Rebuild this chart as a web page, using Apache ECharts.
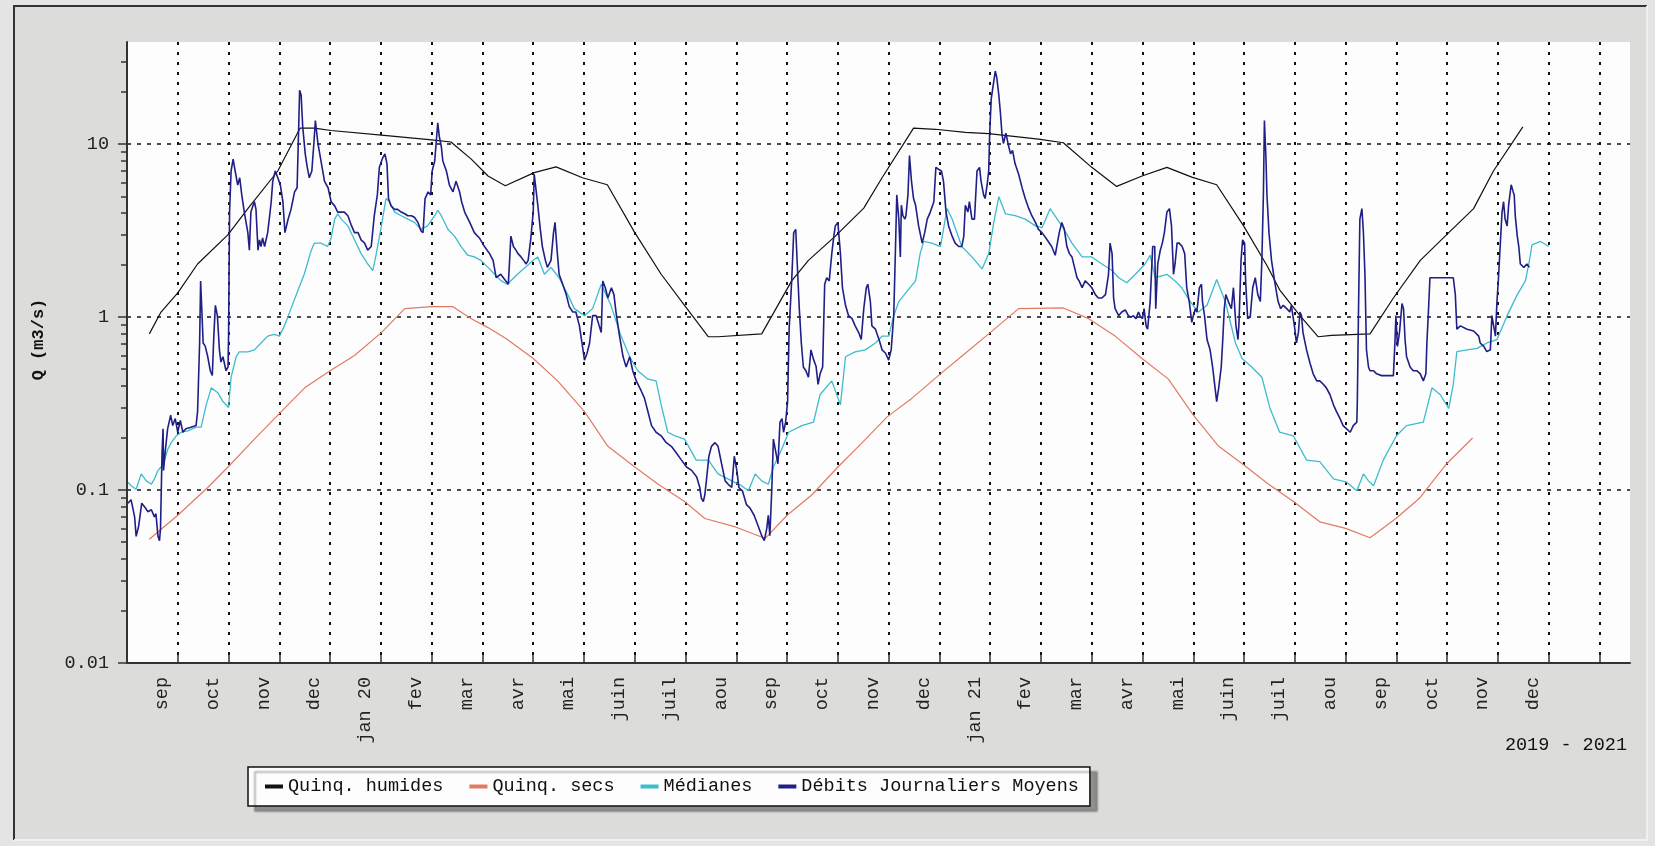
<!DOCTYPE html>
<html>

	<head>
		<meta charset="utf-8">
		<script src="https://cdn.jsdelivr.net/npm/echarts/dist/echarts.min.js"></script>
		<style>
			body { margin: 0; background: #e4e4e4; }
		</style>
	</head>

	<body>
		<div id="main" style="width: 1655px;height:846px;"></div>
		<script>
			// axe des x : un pas = un mois (0 = debut aout 2019)
			var moisLabels = ['', 'sep', 'oct', 'nov', 'dec', 'jan 20', 'fev', 'mar', 'avr', 'mai', 'juin', 'juil', 'aou',
				'sep', 'oct', 'nov', 'dec', 'jan 21', 'fev', 'mar', 'avr', 'mai', 'juin', 'juil', 'aou',
				'sep', 'oct', 'nov', 'dec', ''];
			var yLabels = ['0.01', '0.1', '1', '10'];
			var yMajor = [0.01, 0.1, 1, 10];
			var yMinor = [0.02, 0.03, 0.04, 0.05, 0.06, 0.07, 0.08, 0.09,
				0.2, 0.3, 0.4, 0.5, 0.6, 0.7, 0.8, 0.9,
				2, 3, 4, 5, 6, 7, 8, 9, 20, 30];

			// [mois, Q m3/s]
			var humides = [[0.44,0.80],[0.67,1.07],[1.0,1.38],[1.39,2.03],[1.99,3.0],[2.38,4.24],[2.97,7.0],[3.41,12.4],[3.69,12.4],[4.02,12.0],[5.01,11.3],[6.0,10.6],[6.38,10.3],[6.78,8.2],[7.11,6.55],[7.45,5.75],[8.02,6.85],[8.45,7.4],[8.97,6.4],[9.46,5.83],[10.0,3.08],[10.52,1.77],[10.98,1.17],[11.45,0.77],[11.64,0.77],[12.50,0.80],[13.09,1.62],[13.42,2.13],[13.95,2.94],[14.51,4.27],[14.87,6.4],[15.49,12.4],[15.92,12.2],[16.51,11.7],[16.97,11.5],[17.95,10.7],[18.44,10.2],[19.0,7.35],[19.49,5.7],[19.99,6.55],[20.48,7.35],[20.97,6.45],[21.46,5.83],[21.99,3.37],[22.45,1.99],[22.70,1.44],[23.10,1.02],[23.46,0.77],[23.72,0.785],[24.48,0.80],[24.94,1.29],[25.47,2.13],[25.99,3.0],[26.52,4.24],[26.91,7.0],[27.49,12.6]];

			var secs = [[0.44,0.052],[1.0,0.0715],[1.59,0.1035],[1.99,0.136],[2.51,0.197],[3.0,0.277],[3.5,0.39],[4.0,0.49],[4.48,0.60],[5.01,0.814],[5.47,1.12],[6.0,1.15],[6.42,1.15],[6.78,0.98],[7.11,0.87],[7.47,0.75],[8.0,0.577],[8.48,0.428],[9.01,0.284],[9.47,0.179],[10.0,0.136],[10.46,0.108],[10.98,0.0858],[11.38,0.0685],[12.0,0.061],[12.57,0.0525],[13.0,0.0715],[13.49,0.094],[14.0,0.136],[14.48,0.188],[14.97,0.265],[15.46,0.34],[16.02,0.47],[16.51,0.618],[17.0,0.814],[17.56,1.12],[18.44,1.13],[18.94,0.98],[19.46,0.777],[19.99,0.577],[20.51,0.438],[21.0,0.271],[21.5,0.179],[21.99,0.14],[22.45,0.11],[22.97,0.0858],[23.49,0.0655],[24.0,0.06],[24.48,0.053],[24.99,0.0685],[25.46,0.09],[25.99,0.142],[26.5,0.2]];

			var medianes = [[0.02,0.111],[0.08,0.106],[0.18,0.101],[0.28,0.124],[0.38,0.113],[0.48,0.108],[0.54,0.116],[0.61,0.130],[0.67,0.136],[0.72,0.142],[0.80,0.171],[0.87,0.188],[0.97,0.206],[1.07,0.216],[1.20,0.22],[1.36,0.231],[1.46,0.231],[1.56,0.311],[1.66,0.39],[1.79,0.365],[1.89,0.325],[2.00,0.30],[2.05,0.45],[2.15,0.59],[2.21,0.63],[2.38,0.63],[2.51,0.647],[2.64,0.709],[2.77,0.777],[2.90,0.795],[3.00,0.777],[3.10,0.89],[3.23,1.12],[3.36,1.41],[3.49,1.77],[3.63,2.44],[3.69,2.68],[3.82,2.68],[3.95,2.56],[4.02,2.87],[4.09,3.69],[4.15,3.96],[4.22,3.69],[4.35,3.37],[4.48,2.80],[4.61,2.33],[4.74,2.03],[4.84,1.86],[4.91,2.33],[5.01,3.37],[5.10,4.85],[5.17,4.65],[5.27,4.05],[5.40,3.86],[5.53,3.69],[5.66,3.53],[5.79,3.22],[5.92,3.37],[6.06,3.86],[6.12,4.15],[6.19,3.86],[6.32,3.22],[6.45,2.94],[6.58,2.56],[6.71,2.28],[6.84,2.23],[6.97,2.13],[7.11,1.94],[7.24,1.77],[7.37,1.62],
				[7.49,1.55],[7.69,1.77],[8.00,2.13],[8.09,2.23],[8.22,1.77],[8.35,1.94],[8.51,1.69],[8.68,1.35],[8.81,1.12],[9.01,1.02],[9.17,1.12],[9.34,1.55],[9.53,1.17],[9.73,0.777],[9.90,0.59],[10.06,0.49],[10.26,0.438],[10.42,0.428],[10.52,0.311],[10.65,0.216],[10.79,0.206],[10.98,0.197],[11.21,0.149],[11.45,0.149],[11.64,0.124],[11.91,0.113],[12.10,0.106],[12.24,0.099],[12.37,0.124],[12.50,0.113],[12.63,0.108],[12.73,0.136],[12.89,0.171],[13.03,0.216],[13.29,0.236],[13.52,0.247],[13.65,0.357],[13.88,0.428],[14.05,0.311],[14.15,0.59],[14.34,0.63],[14.54,0.647],[14.74,0.709],
				[14.87,0.777],[15.00,0.777],[15.10,1.02],[15.20,1.23],[15.36,1.41],[15.53,1.62],[15.62,2.33],[15.69,2.74],[15.85,2.68],[16.02,2.56],[16.15,4.24],[16.25,3.69],[16.44,2.56],[16.64,2.23],[16.84,1.90],[16.97,2.33],[17.07,3.53],[17.17,4.97],[17.30,3.96],[17.49,3.86],[17.69,3.69],[17.89,3.37],[18.02,3.29],[18.18,4.24],[18.41,3.37],[18.61,2.68],[18.81,2.23],[19.00,2.23],[19.20,2.03],[19.40,1.86],[19.53,1.69],[19.69,1.58],[19.86,1.77],[20.05,2.03],[20.15,2.28],[20.25,1.69],[20.48,1.77],[20.64,1.62],[20.77,1.48],[20.94,1.23],[21.10,1.07],[21.27,1.17],[21.46,1.65],[21.63,1.23],[21.83,0.709],[21.96,0.577],[22.15,0.515],[22.35,0.449],
				[22.51,0.297],[22.70,0.216],[22.97,0.206],[23.23,0.149],[23.49,0.146],[23.76,0.116],[24.02,0.111],[24.22,0.099],[24.35,0.124],[24.45,0.113],[24.55,0.106],[24.74,0.149],[25.00,0.206],[25.20,0.236],[25.53,0.247],[25.70,0.39],[25.86,0.357],[26.03,0.297],[26.12,0.409],[26.19,0.632],[26.39,0.647],[26.59,0.66],[26.78,0.709],[26.98,0.742],[27.18,1.02],[27.38,1.35],[27.54,1.62],[27.62,2.13],[27.67,2.62],[27.84,2.74],[28.00,2.56]];

			var debits = [[0.02,0.084],[0.08,0.088],[0.15,0.070],[0.18,0.054],[0.23,0.062],[0.29,0.084],[0.36,0.079],[0.41,0.075],[0.48,0.077],[0.54,0.070],[0.57,0.073],[0.61,0.054],[0.64,0.051],[0.66,0.060],[0.69,0.164],[0.71,0.226],[0.72,0.130],[0.75,0.164],[0.77,0.164],[0.80,0.226],[0.86,0.271],[0.90,0.236],[0.95,0.259],[1.00,0.216],[1.05,0.253],[1.10,0.216],[1.16,0.226],[1.26,0.231],[1.36,0.236],[1.39,0.284],[1.43,0.709],[1.45,1.62],[1.48,1.62],[1.50,0.709],[1.54,0.68],[1.59,0.59],[1.64,0.49],[1.68,0.46],[1.71,0.777],[1.74,1.17],[1.78,1.02],[1.82,0.647],[1.85,0.55],[1.89,0.59],[1.95,0.49],[1.99,0.515],[2.00,0.777],[2.02,4.05],[2.05,7.0],[2.09,8.2],[2.13,7.0],[2.18,5.8],[2.22,6.4],[2.26,5.09],[2.31,4.05],[2.38,3.08],[2.41,2.44],[2.44,4.05],[2.48,4.4],[2.51,4.65],[2.54,4.2],[2.58,2.44],[2.61,2.8],[2.64,2.56],[2.67,2.87],[2.71,2.56],[2.74,2.56],[2.77,3.08],[2.81,3.86],[2.84,4.65],[2.87,6.1],[2.92,7.0],[2.97,6.4],[3.02,5.8],[3.07,4.65],[3.11,3.08],[3.17,3.66],[3.23,4.2],[3.30,5.3],[3.35,5.6],[3.40,20.5],[3.43,19.2],[3.46,12.7],[3.51,8.8],[3.55,7.35],[3.59,6.4],[3.64,7.0],[3.68,10.1],[3.71,13.7],[3.76,10.1],[3.82,8.0],[3.89,6.1],[3.96,5.6],[4.02,4.65],[4.09,4.4],[4.15,4.05],[4.22,4.05],[4.28,4.05],[4.35,3.86],[4.41,3.44],[4.48,3.08],[4.55,3.08],[4.61,2.8],[4.68,2.68],[4.74,2.44],[4.81,2.56],[4.87,3.86],[4.93,5.09],[4.97,7.35],[5.04,8.4],[5.08,8.8],[5.12,7.7],[5.15,4.85],[5.20,4.4],[5.27,4.2],[5.33,4.2],[5.40,4.05],[5.47,3.96],[5.53,3.86],[5.60,3.86],[5.66,3.78],[5.73,3.53],[5.79,3.15],[5.83,3.08],[5.87,4.85],[5.93,5.3],[5.98,5.09],[6.01,7.0],[6.06,8.0],[6.12,13.3],[6.15,11.1],[6.19,9.7],[6.22,8.0],[6.29,7.0],[6.35,5.8],[6.42,5.3],[6.48,6.1],[6.55,5.3],[6.59,4.65],[6.65,4.05],[6.75,3.53],[6.84,3.08],[6.94,2.87],[7.04,2.56],[7.14,2.33],[7.21,2.13],[7.27,1.69],
				[7.36,1.77],[7.46,1.62],[7.51,1.55],[7.56,2.94],[7.61,2.56],[7.66,2.44],[7.70,2.33],[7.76,2.23],[7.81,2.13],[7.86,2.03],[7.90,2.13],[7.95,2.80],[8.00,4.05],[8.02,6.7],[8.05,6.7],[8.09,4.44],[8.14,3.22],[8.18,2.56],[8.24,2.13],[8.28,1.94],[8.35,2.13],[8.40,3.08],[8.43,3.53],[8.47,2.44],[8.51,1.77],[8.58,1.55],[8.65,1.35],[8.71,1.15],[8.78,1.07],[8.84,1.07],[8.91,0.89],[8.96,0.709],[9.01,0.564],[9.06,0.618],[9.11,0.709],[9.17,1.02],[9.24,1.02],[9.30,0.89],[9.34,0.814],[9.37,1.62],[9.42,1.48],[9.47,1.29],[9.54,1.48],[9.59,1.35],[9.63,1.07],[9.70,0.777],[9.77,0.59],[9.83,0.515],[9.90,0.59],[9.96,0.49],[10.03,0.428],[10.13,0.373],[10.19,0.34],[10.26,0.284],[10.33,0.236],[10.42,0.216],[10.52,0.206],[10.62,0.188],[10.72,0.179],[10.82,0.164],[10.92,0.149],[11.02,0.136],[11.12,0.130],[11.22,0.119],[11.28,0.1035],[11.31,0.090],[11.35,0.0858],[11.38,0.094],[11.41,0.113],[11.46,0.157],[11.51,0.179],[11.58,0.188],[11.64,0.179],[11.71,0.142],[11.78,0.113],[11.84,0.108],[11.91,0.1035],[11.96,0.157],[12.01,0.130],[12.05,0.1035],[12.12,0.099],[12.20,0.0823],[12.27,0.0787],[12.35,0.0715],[12.43,0.062],[12.50,0.0545],[12.55,0.051],[12.60,0.060],[12.63,0.0715],[12.66,0.0545],[12.70,0.1035],[12.73,0.197],[12.78,0.164],[12.82,0.142],[12.86,0.247],[12.90,0.259],[12.93,0.216],[12.97,0.247],[13.01,0.325],[13.04,0.852],[13.09,1.62],[13.13,3.08],[13.17,3.22],[13.20,2.03],[13.24,1.12],[13.28,0.709],[13.32,0.515],[13.37,0.49],[13.42,0.449],[13.47,0.647],[13.52,0.57],[13.57,0.52],[13.61,0.409],[13.65,0.47],[13.70,0.515],[13.74,1.55],[13.78,1.69],[13.83,1.62],[13.88,2.33],[13.92,2.94],[13.95,3.37],[14.00,3.53],[14.05,2.33],[14.09,1.48],[14.15,1.17],[14.21,1.02],[14.28,0.98],[14.34,0.89],[14.41,0.814],[14.46,0.742],[14.51,1.12],[14.56,1.48],[14.59,1.55],[14.64,1.23],[14.67,0.89],[14.74,0.852],[14.81,0.742],
				[14.87,0.647],[14.94,0.618],[15.00,0.564],[15.05,0.647],[15.10,1.02],[15.13,2.23],[15.16,5.09],[15.20,3.69],[15.23,2.23],[15.25,4.44],[15.28,3.86],[15.32,3.69],[15.34,3.86],[15.38,5.09],[15.41,8.6],[15.45,6.1],[15.49,4.85],[15.53,4.44],[15.59,3.37],[15.66,2.68],[15.71,3.08],[15.76,3.69],[15.82,4.05],[15.89,4.65],[15.93,7.35],[15.98,7.17],[16.04,7.0],[16.08,6.1],[16.13,4.05],[16.18,3.37],[16.25,2.94],[16.31,2.68],[16.38,2.56],[16.44,2.56],[16.48,2.94],[16.51,4.44],[16.56,4.05],[16.59,4.65],[16.64,3.69],[16.69,3.69],[16.74,7.0],[16.79,7.35],[16.82,6.1],[16.87,5.09],[16.90,4.85],[16.94,5.83],[16.97,7.0],[16.99,11.6],[17.02,18.3],[17.07,23.1],[17.10,26.5],[17.13,24.2],[17.17,19.2],[17.20,15.3],[17.23,11.6],[17.26,10.1],[17.31,11.6],[17.35,10.1],[17.40,8.8],[17.44,9.2],[17.49,7.7],[17.56,6.7],[17.63,5.57],[17.69,4.85],[17.76,4.24],[17.82,3.86],[17.89,3.53],[17.95,3.22],[18.02,3.08],[18.12,2.80],[18.21,2.56],[18.28,2.28],[18.31,2.56],[18.36,3.08],[18.41,3.53],[18.46,3.22],[18.51,2.56],[18.56,2.33],[18.61,2.23],[18.66,1.94],[18.71,1.69],[18.75,1.62],[18.81,1.48],[18.87,1.62],[18.94,1.55],[19.00,1.48],[19.07,1.35],[19.13,1.29],[19.20,1.29],[19.27,1.35],[19.33,1.77],[19.36,2.68],[19.40,2.33],[19.43,1.29],[19.46,1.12],[19.53,1.02],[19.59,1.07],[19.66,1.10],[19.72,1.02],[19.78,1.00],[19.82,1.02],[19.87,0.98],[19.92,1.07],[19.95,1.02],[20.00,0.98],[20.03,1.12],[20.07,0.89],[20.10,0.852],[20.15,1.23],[20.20,2.56],[20.24,2.56],[20.26,1.12],[20.30,2.03],[20.35,2.44],[20.39,2.68],[20.43,3.08],[20.48,4.05],[20.53,4.24],[20.57,3.37],[20.61,1.77],[20.64,2.03],[20.68,2.68],[20.72,2.68],[20.78,2.56],[20.83,2.33],[20.87,1.48],[20.92,1.23],[20.97,0.933],[21.00,1.02],[21.04,1.12],[21.07,1.07],[21.12,1.48],[21.16,1.55],[21.18,1.23],[21.22,1.02],[21.27,0.742],[21.33,0.647],[21.38,0.515],[21.42,0.409],[21.46,0.325],[21.50,0.39],[21.55,0.515],[21.58,0.742],[21.61,1.12],[21.64,1.35],[21.69,1.23],[21.75,1.12],[21.79,1.48],[21.84,0.89],[21.88,0.742],[21.90,0.933],[21.94,2.13],[21.97,2.80],[22.01,2.68],[22.03,1.62],[22.07,0.98],[22.12,1.00],[22.17,1.48],[22.22,1.69],[22.27,1.35],[22.32,1.23],[22.35,2.13],[22.38,5.09],[22.40,13.7],[22.43,8.4],
				[22.45,5.09],[22.49,3.08],[22.54,2.13],[22.60,1.62],[22.67,1.23],[22.72,1.12],[22.77,1.17],[22.84,1.12],[22.90,1.07],[22.93,1.17],[22.97,0.98],[23.00,0.852],[23.03,0.709],[23.07,0.814],[23.10,1.07],[23.13,1.02],[23.16,0.814],[23.23,0.647],[23.30,0.539],[23.36,0.47],[23.43,0.428],[23.49,0.428],[23.56,0.409],[23.62,0.39],[23.69,0.357],[23.76,0.311],[23.82,0.284],[23.89,0.259],[23.95,0.236],[24.02,0.226],[24.09,0.216],[24.15,0.236],[24.22,0.247],[24.23,0.325],[24.25,0.933],[24.28,3.69],[24.32,4.24],[24.35,3.08],[24.38,1.77],[24.41,0.647],[24.45,0.515],[24.48,0.49],[24.55,0.49],[24.61,0.47],[24.71,0.459],[24.81,0.459],[24.94,0.459],[24.97,0.709],[24.99,1.02],[25.02,0.677],[25.06,0.814],[25.11,1.2],[25.14,1.12],[25.17,0.742],[25.20,0.59],[25.27,0.515],[25.33,0.49],[25.40,0.49],[25.47,0.47],[25.53,0.428],[25.58,0.47],[25.60,0.709],[25.63,1.07],[25.66,1.69],[25.80,1.69],[25.93,1.69],[26.12,1.69],[26.16,1.35],[26.19,0.852],[26.26,0.89],[26.39,0.852],[26.52,0.832],[26.62,0.777],[26.65,0.709],[26.72,0.677],[26.78,0.632],[26.85,0.647],[26.88,1.02],[26.91,1.02],[26.95,0.777],[26.98,1.23],[27.01,1.69],[27.05,2.80],[27.08,4.05],[27.11,4.65],[27.14,3.69],[27.18,3.37],[27.21,4.44],[27.26,5.83],[27.30,5.3],[27.32,5.09],[27.34,3.86],[27.38,2.94],[27.41,2.56],[27.44,2.03],[27.51,1.94],[27.57,2.03],[27.62,1.94]];

			var police = 'Liberation Mono, DejaVu Sans Mono, monospace';
			var moisTicks = [];
			for(var i = 1; i < moisLabels.length; i++) moisTicks.push(i);

			var myChart = echarts.init(document.getElementById('main'));
			var option = {
				animation: false,
				backgroundColor: '#e4e4e4',
				graphic: [{ // cadre gris autour du graphe
						type: 'rect',
						z: -10,
						shape: { x: 13, y: 5, width: 1634, height: 835 },
						style: { fill: '#dcdddb' }
					},
					{
						type: 'polyline',
						z: -9,
						shape: { points: [[14, 840], [14, 6], [1647, 6]] },
						style: { stroke: '#333', lineWidth: 2, fill: null }
					},
					{
						type: 'polyline',
						z: -9,
						shape: { points: [[14, 840], [1647, 840], [1647, 6]] },
						style: { stroke: '#f0f0f0', lineWidth: 2, fill: null }
					}
				],
				title: {
					text: '2019 - 2021',
					right: 28,
					top: 736,
					padding: 0,
					textStyle: { fontFamily: police, fontSize: 18.5, fontWeight: 'normal', color: '#111' }
				},
				legend: {
					left: 248,
					top: 767,
					padding: [10, 11, 10, 17],
					itemGap: 26,
					itemWidth: 18,
					itemHeight: 4,
					icon: 'rect',
					backgroundColor: '#fdfdfd',
					borderColor: '#111',
					borderWidth: 1.5,
					shadowColor: 'rgba(0, 0, 0, 0.35)',
					shadowBlur: 2,
					shadowOffsetX: 7,
					shadowOffsetY: 5,
					textStyle: { fontFamily: police, fontSize: 18.5, color: '#111' },
					data: ['Quinq. humides', 'Quinq. secs', 'Médianes', 'Débits Journaliers Moyens']
				},
				grid: {
					left: 127,
					right: 25,
					top: 42,
					bottom: 183,
					show: true,
					backgroundColor: '#fdfdfd',
					borderWidth: 0,
					outerBoundsMode: 'none'
				},
				xAxis: {
					type: 'value',
					min: 0,
					max: 29.6,
					interval: 1,
					axisLine: { onZero: false, lineStyle: { color: '#333', width: 2 } },
					axisTick: { inside: true, length: 8, customValues: moisTicks, lineStyle: { color: '#333', width: 1.5 } },
					axisLabel: {
						customValues: moisTicks,
						rotate: 90,
						verticalAlign: 'bottom',
						padding: [0, 0, 6, 0],
						margin: 14,
						fontFamily: police,
						fontSize: 18.5,
						color: '#222',
						formatter: function(v) {
							return moisLabels[Math.round(v)] || '';
						}
					},
					splitLine: {
						show: true,
						lineStyle: { color: '#111', type: [3, 7], width: 2 }
					}
				},
				yAxis: [{
						type: 'log',
						logBase: 10,
						min: 0.01,
						max: 39,
						position: 'left',
						name: 'Q (m3/s)',
						nameLocation: 'middle',
						nameGap: 80,
						nameTextStyle: { fontFamily: police, fontSize: 17, fontWeight: 'bold', color: '#111', padding: [0, 0, 0, 26] },
						axisLine: { show: true, lineStyle: { color: '#333', width: 2 } },
						axisTick: { show: true, length: 9, customValues: yMajor, lineStyle: { color: '#333', width: 1.5 } },
						axisLabel: {
							customValues: yMajor,
							margin: 18,
							fontFamily: police,
							fontSize: 18.5,
							color: '#222',
							formatter: function(v) {
								var k = Math.log10(v) + 2;
								return Math.abs(k - Math.round(k)) < 0.01 ? (yLabels[Math.round(k)] || '') : '';
							}
						},
						splitLine: {
							show: true,
							showMinLine: false,
							lineStyle: { color: '#111', type: [4, 6], width: 1.5 }
						}
					},
					{ // petites graduations 2..9
						type: 'log',
						logBase: 10,
						min: 0.01,
						max: 39,
						position: 'left',
						axisLine: { show: false },
						axisLabel: { show: false },
						splitLine: { show: false },
						axisTick: { show: true, length: 6, customValues: yMinor, lineStyle: { color: '#333', width: 1.5 } }
					}
				],
				series: [{
						name: 'Quinq. humides',
						type: 'line',
						data: humides,
						symbol: 'none',
						lineStyle: { color: '#111', width: 1.2 },
						itemStyle: { color: '#111' }
					},
					{
						name: 'Quinq. secs',
						type: 'line',
						data: secs,
						symbol: 'none',
						lineStyle: { color: '#e27a62', width: 1.2 },
						itemStyle: { color: '#e27a62' }
					},
					{
						name: 'Médianes',
						type: 'line',
						data: medianes,
						symbol: 'none',
						lineStyle: { color: '#3cbccc', width: 1.3 },
						itemStyle: { color: '#3cbccc' }
					},
					{
						name: 'Débits Journaliers Moyens',
						type: 'line',
						data: debits,
						symbol: 'none',
						lineStyle: { color: '#1f1f87', width: 1.6 },
						itemStyle: { color: '#1f1f87' }
					}
				]
			};
			myChart.setOption(option);
		</script>
	</body>

</html>
